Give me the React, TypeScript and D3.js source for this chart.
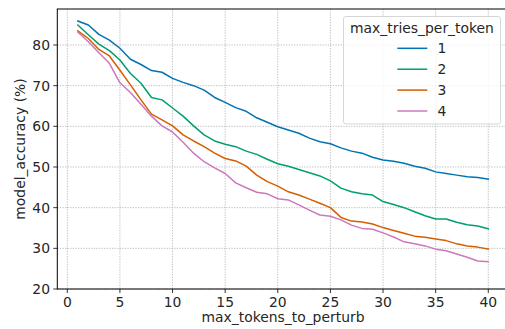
import React from "react";
import * as d3 from "d3";

const xValues: number[] = Array.from({ length: 40 }, (_, i) => i + 1);
const seriesNames = ["1", "2", "3", "4"];
const s1 = [85.9, 84.9, 82.6, 81.2, 79.2, 76.5, 75.2, 73.7, 73.3, 71.8, 70.8, 70.0, 68.9, 67.1, 65.9, 64.6, 63.7, 62.1, 61.0, 59.9, 59.1, 58.3, 57.1, 56.2, 55.7, 54.7, 53.9, 53.4, 52.4, 51.7, 51.4, 50.9, 50.2, 49.7, 48.8, 48.4, 48.0, 47.6, 47.4, 47.0];
const s2 = [84.9, 82.5, 80.2, 78.6, 76.3, 73.0, 70.6, 67.1, 66.5, 64.5, 62.5, 60.1, 57.9, 56.4, 55.6, 55.0, 53.9, 53.1, 51.9, 50.8, 50.2, 49.4, 48.6, 47.8, 46.6, 44.8, 43.9, 43.4, 43.1, 41.5, 40.8, 40.0, 39.0, 38.0, 37.2, 37.2, 36.4, 35.8, 35.5, 34.8];
const s3 = [83.5, 81.6, 78.9, 77.3, 73.8, 70.2, 66.5, 63.0, 61.6, 60.1, 57.9, 56.4, 55.0, 53.4, 52.1, 51.5, 50.2, 48.0, 46.4, 45.3, 43.9, 43.1, 42.1, 41.1, 40.0, 37.6, 36.7, 36.5, 36.0, 35.1, 34.4, 33.7, 33.0, 32.7, 32.3, 31.9, 31.1, 30.6, 30.3, 29.8];
const s4 = [83.2, 80.8, 78.1, 75.5, 70.7, 68.3, 65.4, 62.5, 60.1, 58.6, 56.1, 53.4, 51.3, 49.8, 48.4, 46.1, 44.9, 43.8, 43.4, 42.2, 41.9, 40.7, 39.4, 38.2, 37.9, 37.0, 35.7, 34.9, 34.7, 33.8, 32.8, 31.6, 31.1, 30.6, 29.8, 29.4, 28.6, 27.8, 26.9, 26.7];
const seriesValues = [s1, s2, s3, s4];
const colors = ["#0173b2", "#029e73", "#d55e00", "#cc78bc"];
const xTicks = [0, 5, 10, 15, 20, 25, 30, 35, 40];
const yTicks = [20, 30, 40, 50, 60, 70, 80];

const W = 505;
const H = 329;
const FONT = "DejaVu Sans, sans-serif";
const FS = 13.9;

export default function App() {
  const x = d3.scaleLinear().domain([-0.95, 41.95]).range([57.3, 508.8]);
  const y = d3.scaleLinear().domain([20, 88.85]).range([289, 9]);
  const line = d3
    .line<number>()
    .x((_, i) => x(xValues[i]))
    .y((d) => y(d));

  const left = x.range()[0];
  const right = x.range()[1];
  const top = y.range()[1];
  const bottom = y.range()[0];

  const legX = 343.5;
  const legY = 16.5;
  const legW = 157;
  const legH = 107.5;

  return (
    <svg
      width={W}
      height={H}
      style={{ position: "absolute", left: 0, top: 0, background: "#fff" }}
      fontFamily={FONT}
    >
      <rect x={0} y={0} width={W} height={H} fill="#fff" />
      {/* grid */}
      <g stroke="#b0b0b0" strokeWidth={0.8} strokeDasharray="1.3,1.3">
        {xTicks.map((t) => (
          <line key={"gx" + t} x1={x(t)} x2={x(t)} y1={top} y2={bottom} />
        ))}
        {yTicks.map((t) => (
          <line key={"gy" + t} x1={left} x2={right} y1={y(t)} y2={y(t)} />
        ))}
      </g>
      {/* lines */}
      {seriesValues.map((s, k) => (
        <path
          key={"s" + k}
          d={line(s) || ""}
          fill="none"
          stroke={colors[k]}
          strokeWidth={1.5}
          strokeLinejoin="round"
          strokeLinecap="square"
        />
      ))}
      {/* spines */}
      <rect
        x={left}
        y={top}
        width={right - left}
        height={bottom - top}
        fill="none"
        stroke="#000"
        strokeWidth={1}
      />
      {/* x ticks */}
      <g>
        {xTicks.map((t) => (
          <g key={"tx" + t}>
            <line x1={x(t)} x2={x(t)} y1={bottom} y2={bottom + 4} stroke="#000" strokeWidth={0.8} />
            <text x={x(t)} y={bottom + 18} textAnchor="middle" fontSize={FS} fill="#262626">
              {t}
            </text>
          </g>
        ))}
      </g>
      {/* y ticks */}
      <g>
        {yTicks.map((t) => (
          <g key={"ty" + t}>
            <line x1={left - 4} x2={left} y1={y(t)} y2={y(t)} stroke="#000" strokeWidth={0.8} />
            <text x={left - 7.3} y={y(t) + 5} textAnchor="end" fontSize={FS} fill="#262626">
              {t}
            </text>
          </g>
        ))}
      </g>
      {/* axis labels */}
      <text x={283} y={321.7} textAnchor="middle" fontSize={FS} fill="#262626">
        max_tokens_to_perturb
      </text>
      <text
        transform={`translate(25, ${(top + bottom) / 2}) rotate(-90)`}
        textAnchor="middle"
        fontSize={FS}
        fill="#262626"
      >
        model_accuracy (%)
      </text>
      {/* legend */}
      <g>
        <rect
          x={legX}
          y={legY}
          width={legW}
          height={legH}
          rx={2.5}
          fill="#fff"
          fillOpacity={0.8}
          stroke="#cccccc"
          strokeWidth={0.8}
        />
        <text x={legX + legW / 2} y={33.4} textAnchor="middle" fontSize={FS} fill="#262626">
          max_tries_per_token
        </text>
        {seriesNames.map((n, k) => {
          const ry = 48.3 + k * 20.9;
          return (
            <g key={"leg" + k}>
              <line x1={397.3} x2={427.3} y1={ry} y2={ry} stroke={colors[k]} strokeWidth={1.5} />
              <text x={437.5} y={ry + 5} fontSize={FS} fill="#262626">
                {n}
              </text>
            </g>
          );
        })}
      </g>
    </svg>
  );
}
